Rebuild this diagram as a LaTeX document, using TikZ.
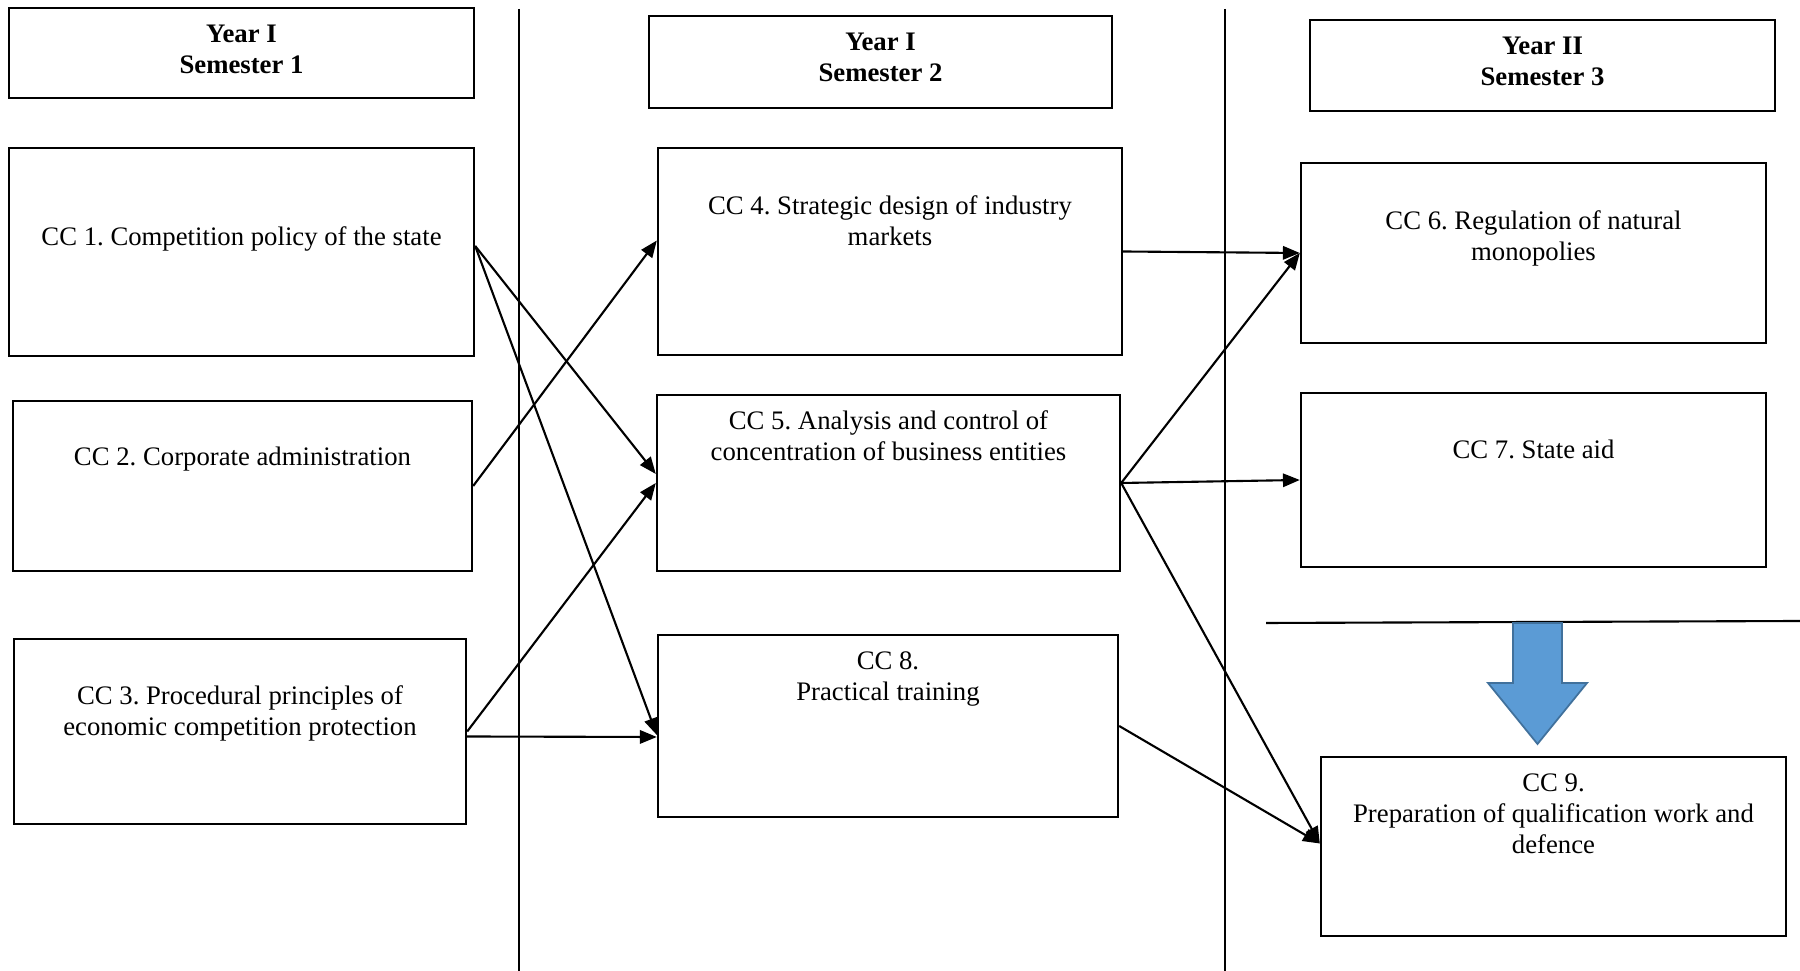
\documentclass[tikz,border=0pt]{standalone}
\usepackage{fontspec}
\setmainfont{Liberation Serif}
\frenchspacing
\usetikzlibrary{arrows.meta, calc}
\definecolor{arrowfill}{HTML}{5B9BD5}
\definecolor{arrowline}{HTML}{41719C}
\tikzset{
x=0.01cm, y=-0.01cm, % one unit is one pixel, y grows downwards
>={Triangle[length=4.8pt,width=3.8pt]}, % filled arrow heads
box/.style={draw, line width=0.6pt, inner sep=0pt}, % the course boxes
cctext/.style={anchor=base, align=center, inner sep=0pt, font=\fontsize{7.6pt}{8.8pt}\selectfont}, % base is the last line
headtext/.style={cctext, font=\fontsize{7.6pt}{8.8pt}\selectfont\bfseries},
link/.style={->, line width=0.6pt},
}

\begin{document}
\begin{tikzpicture}
      \useasboundingbox (0,0) rectangle (1800,971);
      % column separators
      \coordinate (s1top) at (519,9);
      \coordinate (s1bot) at (519,971);
      \coordinate (s2top) at (1225,9);
      \coordinate (s2bot) at (1225,971);
      \draw[line width=0.6pt] (s1top) -- (s1bot);
      \draw[line width=0.6pt] (s2top) -- (s2bot);
      % headers
      \node[box, minimum width=4.65cm, minimum height=0.90cm] (head1) at (241.5,53) {};
      \node[box, minimum width=4.63cm, minimum height=0.92cm] (head2) at (880.5,62) {};
      \node[box, minimum width=4.65cm, minimum height=0.91cm] (head3) at (1542.5,65.5) {};
      \node[headtext] (head1t) at ($(head1.north)+(0,67)$) {Year I\\Semester 1};
      \node[headtext] (head2t) at ($(head2.north)+(0,67)$) {Year I\\Semester 2};
      \node[headtext] (head3t) at ($(head3.north)+(0,67)$) {Year II\\Semester 3};
      % courses
      \node[box, minimum width=4.65cm, minimum height=2.08cm] (cc1) at (241.5,252) {};
      \node[box, minimum width=4.59cm, minimum height=1.70cm] (cc2) at (242.5,486) {};
      \node[box, minimum width=4.52cm, minimum height=1.85cm] (cc3) at (240,731.5) {};
      \node[box, minimum width=4.64cm, minimum height=2.07cm] (cc4) at (890,251.5) {};
      \node[box, minimum width=4.63cm, minimum height=1.76cm] (cc5) at (888.5,483) {};
      \node[box, minimum width=4.60cm, minimum height=1.82cm] (cc8) at (888,726) {};
      \node[box, minimum width=4.65cm, minimum height=1.80cm] (cc6) at (1533.5,253) {};
      \node[box, minimum width=4.65cm, minimum height=1.74cm] (cc7) at (1533.5,480) {};
      \node[box, minimum width=4.65cm, minimum height=1.79cm] (cc9) at (1553.5,846.5) {};
      \node[cctext] (cc1t) at ($(cc1.north)+(0,99)$) {CC 1. Competition policy of the state};
      \node[cctext] (cc2t) at ($(cc2.north)+(0,66)$) {CC 2. Corporate administration};
      \node[cctext] (cc3t) at ($(cc3.north)+(0,98)$) {CC 3. Procedural principles of\\economic competition protection};
      \node[cctext] (cc4t) at ($(cc4.north)+(0,99)$) {CC 4. Strategic design of industry\\markets};
      \node[cctext] (cc5t) at ($(cc5.north)+(0,67)$) {CC 5. Analysis and control of\\concentration of business entities};
      \node[cctext] (cc8t) at ($(cc8.north)+(0,67)$) {CC 8.\\Practical training};
      \node[cctext] (cc6t) at ($(cc6.north)+(0,99)$) {CC 6. Regulation of natural\\monopolies};
      \node[cctext] (cc7t) at ($(cc7.north)+(0,67)$) {CC 7. State aid};
      \node[cctext] (cc9t) at ($(cc9.north)+(0,98)$) {CC 9.\\Preparation of qualification work and\\defence};
      % links between courses
      \draw[link] ($(cc1.east)+(0,-6)$) -- ($(cc5.west)+(0,-9)$);
      \draw[link] ($(cc1.east)+(0,-6)$) -- ($(cc8.west)+(0,9)$);
      \draw[link] (cc2.east) -- ($(cc4.west)+(0,-11)$);
      \draw[link] (cc3.east) -- (cc5.west);
      \draw[link] ($(cc3.east)+(0,5)$) -- ($(cc8.west)+(0,11)$);
      \draw[link] (cc4.east) -- (cc6.west);
      \draw[link] (cc5.east) -- (cc6.west);
      \draw[link] (cc5.east) -- (cc7.west);
      \draw[link] (cc5.east) -- ($(cc9.west)+(0,-3)$);
      \draw[link] (cc8.east) -- ($(cc9.west)+(0,-3)$);
      % final semester separator and block arrow
      \coordinate (sepl) at (1266,623);
      \coordinate (sepr) at (1800,621);
      \draw[line width=0.6pt] (sepl) -- (sepr);
      \draw[fill=arrowfill, draw=arrowline, line width=0.5pt]
        (1513,623) -- (1562,623) -- (1562,683) -- (1587,683) -- (1537.5,744)
        -- (1488,683) -- (1513,683) -- cycle;
\end{tikzpicture}
\end{document}
